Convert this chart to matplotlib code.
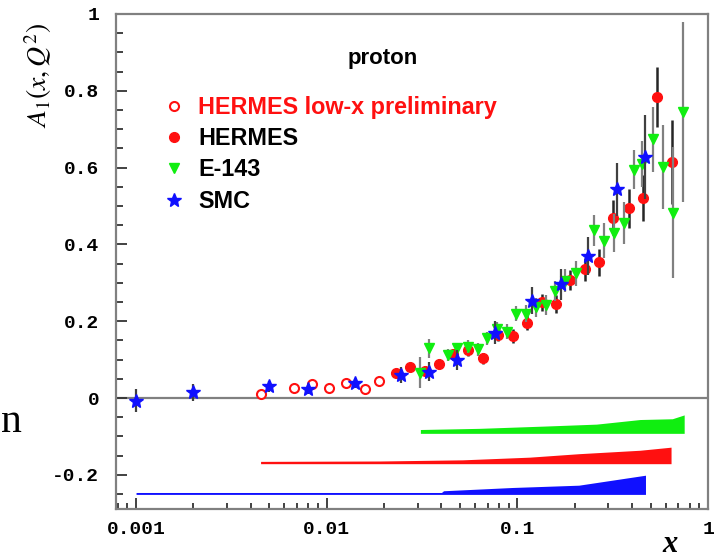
import matplotlib
matplotlib.use('Agg')
import numpy as np
import matplotlib.pyplot as plt
from matplotlib.lines import Line2D

# HERMES low-x preliminary (open circles)
lowx_x = [0.00455, 0.0067, 0.0084, 0.0103, 0.0127, 0.0158, 0.0188]
lowx_y = [0.010, 0.025, 0.036, 0.025, 0.038, 0.023, 0.045]
lowx_err = [0.005, 0.005, 0.005, 0.005, 0.005, 0.005, 0.005]

# HERMES
her_x = [0.0232, 0.0275, 0.0326, 0.039, 0.0462, 0.055, 0.0664, 0.0789, 0.0945, 0.112,
         0.135, 0.159, 0.189, 0.226, 0.269, 0.319, 0.383, 0.457, 0.538, 0.650]
her_y = [0.064, 0.080, 0.071, 0.089, 0.114, 0.125, 0.103, 0.164, 0.161, 0.196,
         0.249, 0.245, 0.307, 0.335, 0.353, 0.470, 0.494, 0.520, 0.785, 0.615]
her_err = [0.010, 0.010, 0.012, 0.012, 0.014, 0.015, 0.015, 0.016, 0.018, 0.020,
           0.022, 0.024, 0.026, 0.030, 0.035, 0.045, 0.050, 0.060, 0.078, 0.110]

# E-143
e143_x = [0.031, 0.0346, 0.0431, 0.048, 0.055, 0.062, 0.069, 0.078, 0.0883, 0.0985,
          0.111, 0.125, 0.141, 0.158, 0.178, 0.203, 0.253, 0.285, 0.322, 0.363,
          0.41, 0.453, 0.515, 0.583, 0.656, 0.74]
e143_y = [0.066, 0.129, 0.112, 0.129, 0.134, 0.127, 0.155, 0.180, 0.173, 0.220,
          0.220, 0.236, 0.242, 0.279, 0.305, 0.325, 0.437, 0.410, 0.430, 0.455,
          0.595, 0.610, 0.674, 0.602, 0.483, 0.745]
e143_err = [0.040, 0.025, 0.015, 0.015, 0.016, 0.017, 0.018, 0.018, 0.020, 0.020,
            0.022, 0.024, 0.025, 0.027, 0.030, 0.032, 0.040, 0.045, 0.050, 0.055,
            0.050, 0.060, 0.085, 0.110, 0.170, 0.235]

# SMC
smc_x = [0.001, 0.002, 0.005, 0.008, 0.014, 0.0246, 0.0344, 0.048, 0.076, 0.119,
         0.169, 0.236, 0.335, 0.468]
smc_y = [-0.007, 0.015, 0.030, 0.023, 0.038, 0.060, 0.069, 0.099, 0.170, 0.253,
         0.296, 0.370, 0.543, 0.627]
smc_err = [0.030, 0.022, 0.015, 0.012, 0.012, 0.020, 0.025, 0.025, 0.030, 0.035,
           0.040, 0.050, 0.070, 0.110]

# systematic error bands (base offset + height)
sys_e143_x = [0.031, 0.063, 0.14, 0.26, 0.44, 0.65, 0.75]
sys_e143_h = [0.010, 0.013, 0.019, 0.024, 0.036, 0.038, 0.048]
sys_e143_base = -0.092
sys_her_x = [0.0045, 0.019, 0.0515, 0.116, 0.21, 0.44, 0.64]
sys_her_h = [0.006, 0.007, 0.010, 0.017, 0.026, 0.035, 0.043]
sys_her_base = -0.171
sys_smc_x = [0.001, 0.040, 0.041, 0.094, 0.21, 0.314, 0.47]
sys_smc_h = [0.005, 0.005, 0.0095, 0.018, 0.024, 0.037, 0.050]
sys_smc_base = -0.251

xticks = [0.001, 0.01, 0.1, 1]
xticklabels = ['0.001', '0.01', '0.1', '1']
yticks = [-0.2, 0, 0.2, 0.4, 0.6, 0.8, 1]
yticklabels = ['-0.2', '0', '0.2', '0.4', '0.6', '0.8', '1']

RED = '#ff1010'
GREEN = '#10ee10'
BLUE = '#1010ff'

plt.rcParams['mathtext.fontset'] = 'stix'

fig = plt.figure(figsize=(7.21, 5.58), dpi=100)
ax = fig.add_axes([116/721, 1-509/558, 592/721, 495/558])

ax.axhline(0, color='0.5', lw=1.6, zorder=1)

ax.fill_between(sys_e143_x, sys_e143_base, np.array(sys_e143_h) + sys_e143_base,
                color=GREEN, lw=0)
ax.fill_between(sys_her_x, sys_her_base, np.array(sys_her_h) + sys_her_base,
                color=RED, lw=0)
ax.fill_between(sys_smc_x, sys_smc_base, np.array(sys_smc_h) + sys_smc_base,
                color=BLUE, lw=0)

ax.errorbar(lowx_x, lowx_y, yerr=lowx_err, fmt='o', mfc='white', mec=RED, mew=1.5,
            ms=6.5, ecolor='0.3', elinewidth=1.5, capsize=0, zorder=3)
ax.errorbar(her_x, her_y, yerr=her_err, fmt='o', color=RED, ms=7,
            ecolor='0.15', elinewidth=1.8, capsize=0, zorder=3)
ax.errorbar(e143_x, e143_y, yerr=e143_err, fmt='v', color=GREEN, ms=7.5,
            ecolor='0.5', elinewidth=1.6, capsize=0, zorder=4)
ax.errorbar(smc_x, smc_y, yerr=smc_err, fmt='*', color=BLUE, ms=10,
            ecolor='0.25', elinewidth=1.6, capsize=0, zorder=5)

ax.set_xscale('log')
ax.set_xlim(0.000785, 1.0)
ax.set_ylim(-0.289, 1.0)

tickfont = {'family': 'Liberation Mono', 'weight': 'bold', 'size': 14}
ax.set_xticks(xticks)
ax.set_xticklabels(xticklabels, fontdict=tickfont)
ax.set_yticks(yticks)
ax.set_yticklabels(yticklabels, fontdict=tickfont)
ax.set_yticks(np.arange(-0.25, 1.0, 0.05), minor=True)
ax.tick_params(which='both', direction='in', color='0.2', width=1.3)
ax.tick_params(axis='y', which='major', length=8, pad=12)
ax.tick_params(axis='y', which='minor', length=5)
ax.tick_params(axis='x', which='major', length=8, pad=9)
ax.tick_params(axis='x', which='minor', length=4)
for s in ax.spines.values():
    s.set_color('0.5')
    s.set_linewidth(1.6)

handles = [Line2D([], [], ls='none', marker='o', mfc='white', mec=RED, mew=1.5, ms=6.5),
           Line2D([], [], ls='none', marker='o', color=RED, ms=7),
           Line2D([], [], ls='none', marker='v', color=GREEN, ms=7.5),
           Line2D([], [], ls='none', marker='*', color=BLUE, ms=10)]
labels = ['HERMES low-x preliminary', 'HERMES', 'E-143', 'SMC']
leg = ax.legend(handles, labels, loc='upper left', bbox_to_anchor=(0.078, 0.835),
                frameon=False, handlelength=1.0, handletextpad=0.55,
                labelspacing=0.36, borderpad=0, borderaxespad=0,
                prop={'family': 'Liberation Sans', 'weight': 'bold', 'size': 16.8})
leg.get_texts()[0].set_color(RED)

ax.text(0.45, 0.91, 'proton', transform=ax.transAxes, ha='center', va='center',
        fontsize=16, fontweight='bold', family='Liberation Sans')

fig.text(38/721, 1-75/558, r'$A_1(x,Q^2)$', rotation=90, ha='center', va='center',
         fontsize=20)
fig.text(670/721, 1-544/558, 'x', ha='center', va='center', fontsize=22,
         family='Liberation Serif', style='italic', fontweight='bold')
fig.text(0.5/721, 1-431.7/558, 'n', ha='left', va='baseline', fontsize=30,
         family='Liberation Serif')

fig.savefig('out.png', dpi=100)
